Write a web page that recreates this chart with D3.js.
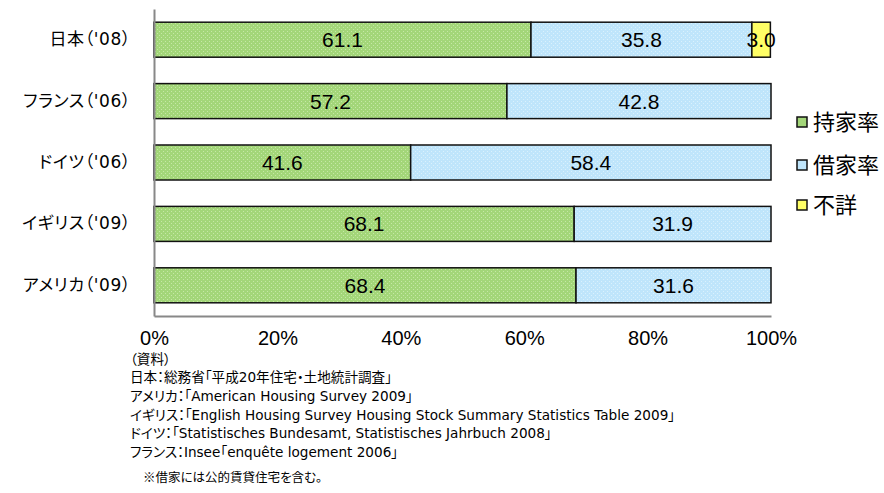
<!DOCTYPE html>
<html>
<head>
<meta charset="utf-8">
<script src="https://cdn.jsdelivr.net/npm/d3@7"></script>
<style>
  html, body { margin: 0; padding: 0; background: #fff; }
  svg { display: block; }
  .palt { font-feature-settings: "palt" 1; }
</style>
</head>
<body>
<svg id="chart" width="884" height="493"></svg>
<script>
// Housing tenure by country (%)
const categories = ["日本（'08）", "フランス（'06）", "ドイツ（'06）", "イギリス（'09）", "アメリカ（'09）"];
const ownedRate = [61.1, 57.2, 41.6, 68.1, 68.4];
const rentedRate = [35.8, 42.8, 58.4, 31.9, 31.6];
const unknownRate = [3.0, 0, 0, 0, 0];
const seriesNames = ["持家率", "借家率", "不詳"];
const tickValues = [0, 20, 40, 60, 80, 100];
const sourceNotes = [
  "（資料）",
  "日本：総務省「平成20年住宅・土地統計調査」",
  "アメリカ：「American Housing Survey 2009」",
  "イギリス：「English Housing Survey Housing Stock Summary Statistics Table 2009」",
  "ドイツ：「Statistisches Bundesamt, Statistisches Jahrbuch 2008」",
  "フランス：Insee「enquête logement  2006」"
];
const footNote = "※借家には公的賃貸住宅を含む。";

const seriesValues = [ownedRate, rentedRate, unknownRate];
const seriesBase = ["#a3d679", "#bfe5fb", "#ffff66"];
const seriesDot = ["#c6e8a6", "#daf1fd", "#ffff66"];

const svg = d3.select("#chart");
const latin = "'Liberation Sans', Arial, sans-serif";
const labelFont = "'DejaVu Sans', 'Noto Sans CJK JP', sans-serif";
const jp = "'Noto Sans CJK JP', sans-serif";
const noteFont = "'DejaVu Sans', 'Noto Sans CJK JP', sans-serif";

// dotted fills
const defs = svg.append("defs");
seriesBase.forEach((c, i) => {
  const p = defs.append("pattern")
    .attr("id", "pat" + i)
    .attr("patternUnits", "userSpaceOnUse")
    .attr("width", 4).attr("height", 4);
  p.append("rect").attr("width", 4).attr("height", 4).attr("fill", c);
  p.append("rect").attr("x", 1).attr("y", 1).attr("width", 1).attr("height", 1).attr("fill", seriesDot[i]);
  p.append("rect").attr("x", 3).attr("y", 3).attr("width", 1).attr("height", 1).attr("fill", seriesDot[i]);
});

const x = d3.scaleLinear().domain([0, 100]).range([154, 771]);
const y = d3.scaleBand().domain(categories).range([9, 316]).paddingInner(0.43).paddingOuter(0.215);

// stacked segments
const segs = categories.map((c, i) => {
  let acc = 0;
  return seriesValues.map((vals, s) => {
    const seg = { cat: c, s, v: vals[i], x0: acc, x1: acc + vals[i] };
    acc += vals[i];
    return seg;
  }).filter(d => d.v > 0);
}).flat();

svg.append("g").selectAll("rect")
  .data(segs)
  .join("rect")
  .attr("x", d => x(d.x0))
  .attr("y", d => y(d.cat))
  .attr("width", d => x(d.x1) - x(d.x0))
  .attr("height", y.bandwidth())
  .attr("fill", d => `url(#pat${d.s})`)
  .attr("stroke", "#111")
  .attr("stroke-width", 1.5);

svg.append("g").selectAll("text")
  .data(segs)
  .join("text")
  .attr("x", d => (x(d.x0) + x(d.x1)) / 2)
  .attr("y", d => y(d.cat) + y.bandwidth() / 2)
  .attr("dy", "0.36em")
  .attr("text-anchor", "middle")
  .attr("font-family", latin)
  .attr("font-size", 21)
  .attr("fill", "#000")
  .text(d => d.v.toFixed(1));

// axes
const xAxis = svg.append("g")
  .attr("transform", "translate(0,316)")
  .call(d3.axisBottom(x).tickValues(tickValues).tickSize(0).tickPadding(15).tickFormat(d => d + "%"));
xAxis.select(".domain").attr("stroke", "#888").attr("stroke-width", 2);
xAxis.selectAll("text").attr("font-family", latin).attr("font-size", 20).attr("fill", "#000");

const yAxis = svg.append("g")
  .attr("transform", "translate(154,0)")
  .call(d3.axisLeft(y).tickSize(0).tickPadding(23));
yAxis.select(".domain").attr("stroke", "#888").attr("stroke-width", 2);
yAxis.selectAll("text")
  .attr("class", "palt")
  .attr("font-family", labelFont).attr("font-size", 17)
  .attr("letter-spacing", 0.6).attr("fill", "#000");

// legend
const legendY = [122, 165, 205];
const legend = svg.append("g").selectAll("g")
  .data(seriesNames)
  .join("g")
  .attr("transform", (d, i) => `translate(797,${legendY[i]})`);
legend.append("rect")
  .attr("x", 0).attr("y", -5).attr("width", 10).attr("height", 10)
  .attr("fill", (d, i) => seriesBase[i])
  .attr("stroke", "#111").attr("stroke-width", 1.5);
legend.append("text")
  .attr("x", 16).attr("dy", "0.36em")
  .attr("font-family", jp).attr("font-size", 22).attr("fill", "#000")
  .text(d => d);

// sources
svg.append("g").selectAll("text")
  .data(sourceNotes)
  .join("text")
  .attr("class", "palt")
  .attr("x", 130)
  .attr("y", (d, i) => 359 + i * 18.6)
  .attr("dy", "0.36em")
  .attr("font-family", noteFont).attr("font-size", 13.6).attr("fill", "#000")
  .text(d => d);

svg.append("text")
  .attr("class", "palt")
  .attr("x", 143).attr("y", 477).attr("dy", "0.36em")
  .attr("font-family", jp).attr("font-size", 12.5).attr("fill", "#000")
  .text(footNote);
</script>
</body>
</html>
